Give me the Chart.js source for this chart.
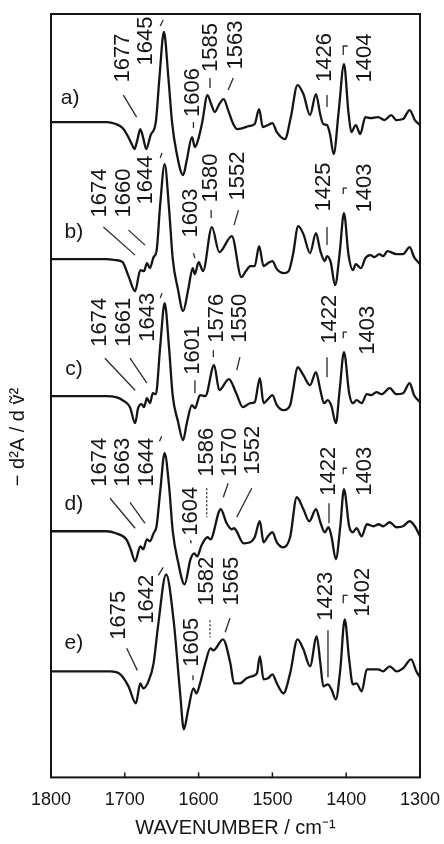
<!DOCTYPE html>
<html>
<head>
<meta charset="utf-8">
<script src="https://cdn.jsdelivr.net/npm/chart.js@4.4.1/dist/chart.umd.min.js"></script>
<style>
  html, body { margin: 0; padding: 0; background: #fff; }
  canvas { display: block; }
</style>
</head>
<body>
<canvas id="canvas" width="444" height="844"></canvas>
<script>
// second derivative spectra, values relative to each trace's own baseline
var waveA = [1800,1725,1712,1703,1696,1690,1687,1683,1679,1675,1671,1665,1658,1653,1647,1641,1636,1630,1621,1616,1609,1605,1600,1595,1588,1583,1578,1572,1566,1560,1553,1548,1540,1532,1524,1518,1513,1506,1500,1494,1483,1475,1466,1458,1449,1441,1435,1431,1426,1422,1417,1410,1403,1397,1393,1387,1381,1374,1367,1357,1348,1339,1332,1323,1314,1307,1300];
var specA = [0,0,-2,-6,-14,-23,-27,-18,-7,-16,-27,-13,0,45,90,45,0,-30,-53,-38,-15,-25,-16,0,27,18,10,18,23,12,-2,-7,-6,-4,-2,13,-5,-3,-1,-10,-17,5,37,28,7,28,7,-2,-3,-12,-32,12,58,10,-10,-3,-12,5,4,5,2,7,2,3,12,2,-3];

var waveB = [1800,1725,1712,1703,1695,1686,1679,1674,1670,1666,1661,1657,1652,1646,1640,1635,1628,1621,1614,1608,1605,1600,1594,1582,1572,1555,1542,1536,1530,1524,1518,1512,1506,1500,1494,1485,1478,1472,1465,1458,1449,1441,1435,1429,1426,1421,1415,1409,1403,1397,1391,1387,1380,1374,1367,1362,1355,1350,1344,1332,1323,1314,1308,1300];
var specB = [0,0,-1,-3,-17,-32,-11,-12,-4,-9,2,8,55,95,50,0,-30,-52,-30,-9,-15,-3,-12,32,7,23,-18,-12,-7,-7,13,-7,-4,-2,-10,-14,-12,5,33,25,6,26,8,-2,3,-3,-26,5,46,5,-11,-5,-9,1,4,2,5,3,8,5,5,12,2,-5];

var waveC = [1800,1725,1712,1703,1693,1686,1682,1677,1674,1670,1666,1662,1658,1652,1646,1640,1635,1628,1621,1616,1609,1605,1598,1591,1579,1572,1559,1549,1540,1530,1524,1517,1512,1506,1500,1494,1485,1476,1472,1466,1458,1449,1441,1435,1430,1425,1420,1414,1409,1403,1396,1391,1386,1379,1372,1366,1359,1352,1341,1332,1323,1314,1308,1300];
var specC = [0,0,-1,-4,-11,-27,-12,-8,-11,-2,-7,3,2,50,93,48,0,-25,-44,-27,-9,-12,1,0,31,6,17,3,-11,-7,-6,18,-7,-3,1,-9,-14,-9,6,29,21,11,24,6,-7,-4,-10,-27,5,44,3,-7,-4,-7,2,1,4,2,8,2,3,13,1,-6];

var waveD = [1800,1725,1712,1698,1692,1686,1679,1675,1670,1666,1661,1657,1652,1646,1640,1635,1628,1619,1611,1606,1602,1596,1588,1584,1570,1562,1555,1552,1539,1530,1524,1517,1512,1506,1500,1494,1485,1476,1467,1458,1450,1441,1435,1429,1424,1420,1414,1408,1403,1396,1391,1386,1379,1372,1363,1356,1350,1341,1332,1323,1314,1307,1300];
var specD = [0,0,-2,-8,-18,-30,-15,-18,-8,-10,-2,5,40,78,45,0,-30,-53,-28,-22,-25,-14,-6,-8,22,8,2,3,-12,-11,-6,10,-11,-5,-1,-11,-16,-6,34,22,10,22,9,-1,4,-5,-28,5,42,5,-1,3,-5,7,5,7,5,9,4,5,10,5,-5];

var waveE = [1800,1720,1706,1695,1685,1679,1675,1668,1661,1655,1644,1634,1625,1620,1614,1607,1603,1598,1591,1584,1580,1567,1557,1552,1544,1535,1528,1521,1517,1512,1506,1500,1494,1485,1476,1466,1458,1449,1440,1435,1431,1425,1420,1414,1408,1402,1396,1391,1386,1379,1372,1366,1357,1350,1341,1332,1323,1312,1305,1300];
var specE = [0,0,-3,-15,-32,-12,-17,-10,8,45,97,52,-22,-58,-38,-17,-22,-12,8,23,21,32,8,-12,-12,-7,-5,-2,15,-8,-7,-3,-12,-22,-2,32,22,5,35,8,-15,-13,-18,-28,2,52,12,-13,-12,-20,2,2,2,0,5,0,3,12,0,-6];

var panelNames = ['a)', 'b)', 'c)', 'd)', 'e)'];
var bandsA = [1677, 1645, 1606, 1585, 1563, 1426, 1404];
var bandsB = [1674, 1660, 1644, 1603, 1580, 1552, 1425, 1403];
var bandsC = [1674, 1661, 1643, 1601, 1576, 1550, 1422, 1403];
var bandsD = [1674, 1663, 1644, 1604, 1586, 1570, 1552, 1422, 1403];
var bandsE = [1675, 1642, 1605, 1582, 1565, 1423, 1402];
var xTicks = [1800, 1700, 1600, 1500, 1400, 1300];

// layout: vertical stacking of the traces and where the band labels sit
var stackOffset = [655, 518, 381, 246, 106];
var panelPos = [[1774, 24], [1769, 27], [1769, 27], [1769, 27], [1769, 28]];
// [x wavenumber, height above baseline, leader polyline, dashed]
var markA = [
  [1704, 64, [[1702,27],[1684,5]]],
  [1672.6, 81, [[1652,96],[1648,102]]],
  [1609, 29.5, [[1607,0],[1607,-6]]],
  [1584.6, 74.5, [[1584.6,44],[1584.6,34]]],
  [1550.7, 77, [[1553,44],[1560,32]]],
  [1430, 64.5, [[1426,27],[1426,15]]],
  [1376, 64, [[1404,67],[1404,76],[1398,76]]]
];
var markB = [
  [1735, 66, [[1729,32],[1686,4]]],
  [1702.4, 66, [[1695,29],[1672.6,14]]],
  [1672.6, 79, [[1652,101],[1649.6,106]]],
  [1611.7, 46, [[1607,6],[1605,1]]],
  [1584.6, 81, [[1583,49],[1583,41]]],
  [1548, 83, [[1546,49],[1552,34]]],
  [1431.4, 72, [[1426,32],[1426,14]]],
  [1376, 71, [[1404,65],[1404,71],[1399,71]]]
];
var markC = [
  [1735, 74, [[1727,38],[1686,6]]],
  [1702.4, 74, [[1693,38],[1670,13]]],
  [1670, 79, [[1652,98],[1649.6,103]]],
  [1609, 46, [[1605,16],[1605,3]]],
  [1576.4, 78, [[1580,46],[1580,39]]],
  [1545, 78, [[1544,39],[1548.4,26]]],
  [1423.3, 77, [[1426,39],[1426,19]]],
  [1371.8, 66, [[1404,58],[1404,64],[1399,64]]]
];
var markD = [
  [1735, 69, [[1720,33],[1686,3]]],
  [1703.8, 69, [[1693,29],[1672.6,8]]],
  [1671, 69, [[1653,90],[1650,95]]],
  [1611.7, 20, [[1611,-9],[1610,-12]]],
  [1590, 79, [[1589,43],[1589,14]], true],
  [1559, 79, [[1560,48],[1566.5,34]]],
  [1527.6, 81, [[1528,43],[1548.4,14]]],
  [1424.7, 60, [[1423.3,28],[1423.3,8]]],
  [1376, 60, [[1404,57],[1404,63],[1399,63]]]
];
var markE = [
  [1709, 56, [[1697.4,23],[1683,1]]],
  [1671, 72, [[1654.6,96],[1648,104]]],
  [1610, 29, [[1607.6,-4],[1607.6,-9]]],
  [1590, 90, [[1584.6,51],[1584.6,34]], true],
  [1556, 90, [[1557.5,53],[1564,39]]],
  [1428.7, 75, [[1424.7,41],[1424.7,-6]]],
  [1378.6, 79, [[1404,68],[1404,76],[1398,76]]]
];

var ink = '#151515';
var family = '"Liberation Sans", Arial, Helvetica, sans-serif';

function trace(waves, values, k) {
  return {
    data: waves.map(function(w, i) { return { x: w, y: stackOffset[k] + values[i] }; }),
    borderColor: ink,
    borderWidth: 2.3,
    pointRadius: 0,
    fill: false,
    cubicInterpolationMode: 'monotone'
  };
}

var annotate = {
  id: 'annotate',
  afterDatasetsDraw: function(chart) {
    var ctx = chart.ctx, a = chart.chartArea, xs = chart.scales.x, ys = chart.scales.y;
    var bands = [bandsA, bandsB, bandsC, bandsD, bandsE];
    var marks = [markA, markB, markC, markD, markE];
    ctx.save();

    // frame and inward ticks
    ctx.strokeStyle = ink;
    ctx.lineWidth = 2;
    ctx.strokeRect(a.left, a.top, a.right - a.left, a.bottom - a.top);
    ctx.lineWidth = 1.5;
    xTicks.forEach(function(v) {
      var px = xs.getPixelForValue(v);
      ctx.beginPath();
      ctx.moveTo(px, a.bottom);
      ctx.lineTo(px, a.bottom - 5);
      ctx.stroke();
    });

    ctx.fillStyle = ink;
    ctx.textAlign = 'center';
    ctx.textBaseline = 'middle';

    for (var k = 0; k < 5; k++) {
      var base = stackOffset[k];
      // panel letter
      ctx.font = '21px ' + family;
      ctx.fillText(panelNames[k], xs.getPixelForValue(panelPos[k][0]), ys.getPixelForValue(base + panelPos[k][1]));

      marks[k].forEach(function(m, i) {
        var px = xs.getPixelForValue(m[0]);
        var py = ys.getPixelForValue(base + m[1]);
        ctx.save();
        ctx.translate(px, py);
        ctx.rotate(-Math.PI / 2);
        ctx.font = '22px ' + family;
        ctx.fillText(String(bands[k][i]), 0, 1);
        ctx.restore();

        ctx.save();
        ctx.lineWidth = 1.3;
        ctx.strokeStyle = '#2a2a2a';
        if (m[3]) ctx.setLineDash([2, 2]);
        ctx.beginPath();
        m[2].forEach(function(p, j) {
          var qx = xs.getPixelForValue(p[0]);
          var qy = ys.getPixelForValue(base + p[1]);
          if (j === 0) ctx.moveTo(qx, qy); else ctx.lineTo(qx, qy);
        });
        ctx.stroke();
        ctx.restore();
      });
    }

    // y axis title, rotated
    ctx.save();
    ctx.translate(18, 437);
    ctx.rotate(-Math.PI / 2);
    ctx.font = '20px ' + family;
    ctx.fillText('\u2212 d\u00B2A / d \u1E7D\u00B2', 0, 0);
    ctx.restore();

    ctx.restore();
  }
};

function printChart() {
  var ctx = document.getElementById('canvas').getContext('2d');
  new Chart(ctx, {
    type: 'line',
    data: {
      datasets: [
        trace(waveA, specA, 0),
        trace(waveB, specB, 1),
        trace(waveC, specC, 2),
        trace(waveD, specD, 3),
        trace(waveE, specE, 4)
      ]
    },
    options: {
      responsive: false,
      animation: false,
      events: [],
      layout: { padding: { left: 51, right: 24, top: 14, bottom: 4 } },
      plugins: { legend: { display: false }, tooltip: { enabled: false } },
      scales: {
        x: {
          type: 'linear',
          reverse: true,
          min: 1300,
          max: 1800,
          afterBuildTicks: function(scale) {
            scale.ticks = xTicks.map(function(v) { return { value: v }; });
          },
          afterFit: function(scale) {
            // labels may hang past the plot edges; keep the frame where the padding puts it
            scale.paddingLeft = 0;
            scale.paddingRight = 0;
          },
          grid: { display: false, drawTicks: false },
          border: { display: false },
          ticks: {
            autoSkip: false,
            maxRotation: 0,
            padding: 12,
            color: ink,
            font: { family: family, size: 18 },
            callback: function(v) { return String(v); }
          },
          title: {
            display: true,
            text: 'WAVENUMBER / cm\u207B\u00B9',
            color: ink,
            font: { family: family, size: 20 },
            padding: { top: -7, bottom: 0 }
          }
        },
        y: {
          display: false,
          min: 0,
          max: 763
        }
      }
    },
    plugins: [annotate]
  });
}

printChart();
</script>
</body>
</html>
